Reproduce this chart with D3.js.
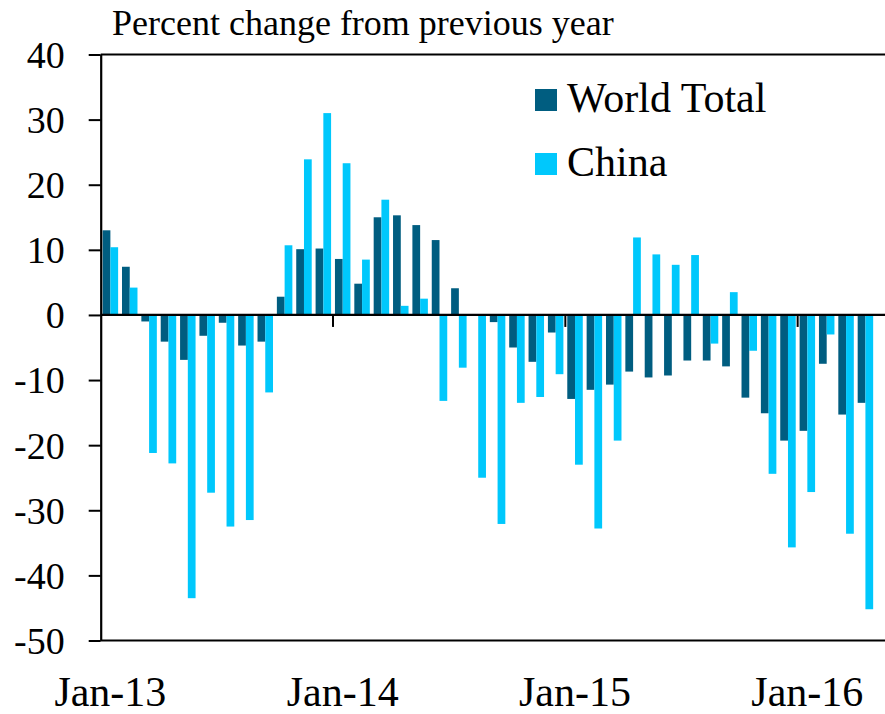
<!DOCTYPE html>
<html>
<head>
<meta charset="utf-8">
<script src="https://cdn.jsdelivr.net/npm/d3@7"></script>
<style>
  body { margin: 0; background: #fff; }
  svg { display: block; }
  svg text { font-family: 'Liberation Serif'; fill: #000; }
</style>
</head>
<body>
<svg class="canvas" width="885" height="714"></svg>
<script>
'use strict'

// Months Jan-13 .. Apr-16
const months = [
  'Jan-13', 'Feb-13', 'Mar-13', 'Apr-13', 'May-13', 'Jun-13', 'Jul-13', 'Aug-13', 'Sep-13', 'Oct-13', 'Nov-13', 'Dec-13',
  'Jan-14', 'Feb-14', 'Mar-14', 'Apr-14', 'May-14', 'Jun-14', 'Jul-14', 'Aug-14', 'Sep-14', 'Oct-14', 'Nov-14', 'Dec-14',
  'Jan-15', 'Feb-15', 'Mar-15', 'Apr-15', 'May-15', 'Jun-15', 'Jul-15', 'Aug-15', 'Sep-15', 'Oct-15', 'Nov-15', 'Dec-15',
  'Jan-16', 'Feb-16', 'Mar-16', 'Apr-16'
]

const worldTotal = [
  13.0, 7.4, -1.0, -4.1, -6.9, -3.2, -1.2, -4.7, -4.1, 2.8, 10.1, 10.2,
  8.6, 4.8, 15.0, 15.3, 13.8, 11.5, 4.1, 0, -1.1, -5.0, -7.2, -2.7,
  -12.9, -11.5, -10.7, -8.7, -9.6, -9.3, -7.0, -7.0, -7.9, -12.7, -15.1, -19.3,
  -17.8, -7.5, -15.3, -13.5
]

const china = [
  10.4, 4.2, -21.2, -22.8, -43.5, -27.3, -32.5, -31.5, -11.9, 10.7, 23.9, 31.0,
  23.3, 8.5, 17.7, 1.4, 2.5, -13.2, -8.1, -25.0, -32.1, -13.5, -12.6, -9.1,
  -23.0, -32.8, -19.3, 11.9, 9.3, 7.7, 9.2, -4.4, 3.5, -5.5, -24.4, -35.7,
  -27.2, -3.0, -33.6, -45.2
]

const xTickLabels = ['Jan-13', 'Jan-14', 'Jan-15', 'Jan-16']
const yTicks = [40, 30, 20, 10, 0, -10, -20, -30, -40, -50]

const seriesNames = ['World Total', 'China']
const seriesColors = ['#005d80', '#00c8fc']

const svg = d3.select('.canvas')
const width = +svg.attr('width'),
  plotLeft = 100.7,
  plotRight = plotLeft + 40 * 19.36,
  plotTop = 54.5,
  plotBottom = 640.5

const x = d3.scaleBand()
    .domain(months)
    .range([plotLeft, plotRight])
    .paddingInner(0.2)
    .paddingOuter(0.1),
  series = d3.scaleBand()
    .domain(seriesNames)
    .range([0, x.bandwidth()]),
  y = d3.scaleLinear()
    .domain([-50, 40])
    .range([plotBottom, plotTop])

// left edge of a month slot
const slotStart = m => x(m) - x.step() * x.paddingOuter()

// Frame lines (top / bottom), running off the right edge
svg.append('g')
  .selectAll('line')
  .data(d3.extent(y.domain()))
  .join('line')
  .attr('x1', plotLeft).attr('x2', width)
  .attr('y1', d => y(d)).attr('y2', d => y(d))
  .attr('stroke', '#000').attr('stroke-width', 2.2)

// Bars
const rows = months.map((m, i) => ({ month: m, values: [worldTotal[i], china[i]] }))
seriesNames.forEach((name, s) => {
  svg.append('g')
    .selectAll('rect')
    .data(rows)
    .join('rect')
    .attr('x', d => x(d.month) + series(name))
    .attr('width', series.bandwidth())
    .attr('y', d => y(Math.max(0, d.values[s])))
    .attr('height', d => Math.abs(y(d.values[s]) - y(0)))
    .attr('fill', seriesColors[s])
})

// Y axis
const yAxis = d3.axisLeft(y)
  .tickValues(yTicks)
  .tickFormat(d => String(d))
  .tickSize(12)
  .tickSizeOuter(0)
  .tickPadding(24)
const gy = svg.append('g')
  .attr('transform', `translate(${plotLeft},0)`)
  .call(yAxis)
gy.select('.domain').attr('stroke', '#000').attr('stroke-width', 2.2)
gy.selectAll('.tick line').attr('stroke', '#000').attr('stroke-width', 2)
gy.selectAll('.tick text')
  .style('font-family', "'Liberation Serif'")
  .attr('font-size', 38)
  .attr('fill', '#000')
  .attr('dy', '0.34em')

// Zero line
svg.append('line')
  .attr('x1', plotLeft).attr('x2', width)
  .attr('y1', y(0)).attr('y2', y(0))
  .attr('stroke', '#000').attr('stroke-width', 2.2)

// X ticks at each January, hanging below the zero line
svg.append('g')
  .selectAll('line')
  .data(xTickLabels.slice(1))
  .join('line')
  .attr('x1', d => slotStart(d)).attr('x2', d => slotStart(d))
  .attr('y1', y(0)).attr('y2', y(0) + 12)
  .attr('stroke', '#000').attr('stroke-width', 2)

svg.append('g')
  .selectAll('text')
  .data(xTickLabels)
  .join('text')
  .attr('x', d => x(d) + x.bandwidth() / 2)
  .attr('y', 706)
  .attr('text-anchor', 'middle')
  .attr('font-size', 42)
  .style('font-family', "'Liberation Serif'")
  .text(d => d)

// Title
svg.append('text')
  .attr('x', 112)
  .attr('y', 35)
  .attr('font-size', 36)
  .style('font-family', "'Liberation Serif'")
  .text('Percent change from previous year')

// Legend
const legend = svg.append('g')
  .selectAll('g')
  .data(seriesNames)
  .join('g')
  .attr('transform', (d, i) => `translate(535,${89 + i * 64})`)
legend.append('rect')
  .attr('width', 22).attr('height', 22)
  .attr('fill', (d, i) => seriesColors[i])
legend.append('text')
  .attr('x', 32)
  .attr('y', 23)
  .attr('font-size', 42)
  .style('font-family', "'Liberation Serif'")
  .text(d => d)
</script>
</body>
</html>
